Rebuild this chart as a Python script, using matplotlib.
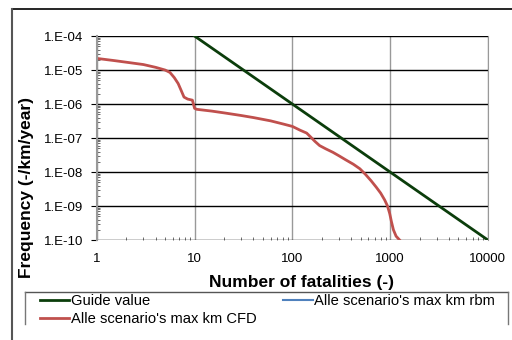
import matplotlib.pyplot as plt
from matplotlib.lines import Line2D
from matplotlib.ticker import LogLocator, NullFormatter

# guide value line (F = 1e-2 / N^2)
guide_n = [10, 10000]
guide_f = [1e-4, 1e-10]

# CFD scenario curve
cfd_n = [1, 1.5, 2, 3, 4, 5, 5.6, 6.2, 6.8, 7.3, 7.8, 8.5, 9.5, 10, 10.5, 15, 20, 30, 40, 60,
         80, 100, 120, 140, 155, 170, 190, 220, 260, 300, 350, 420, 490, 560, 640, 720, 800,
         880, 940, 990, 1030, 1080, 1150, 1250]
cfd_f = [2.2e-5, 1.9e-5, 1.7e-5, 1.45e-5, 1.2e-5, 1.0e-5, 8.5e-6, 6e-6, 4e-6, 2.5e-6, 1.6e-6,
         1.4e-6, 1.3e-6, 7.5e-7, 7e-7, 6.2e-7, 5.5e-7, 4.6e-7, 4e-7, 3.2e-7, 2.6e-7, 2.2e-7,
         1.7e-7, 1.4e-7, 1.05e-7, 8e-8, 6e-8, 4.8e-8, 3.8e-8, 3e-8, 2.3e-8, 1.7e-8, 1.25e-8,
         8.5e-9, 5.5e-9, 3.6e-9, 2.4e-9, 1.5e-9, 1.0e-9, 6e-10, 3.5e-10, 2e-10, 1.3e-10, 1.0e-10]

# rbm scenario: no visible data in the chart
rbm_n = []
rbm_f = []

yticks = [1e-4, 1e-5, 1e-6, 1e-7, 1e-8, 1e-9, 1e-10]
ylabels = ['1.E-04', '1.E-05', '1.E-06', '1.E-07', '1.E-08', '1.E-09', '1.E-10']
xticks = [1, 10, 100, 1000, 10000]
xlabels = ['1', '10', '100', '1000', '10000']

plt.rcParams['font.family'] = ['Liberation Sans', 'DejaVu Sans']

fig = plt.figure(figsize=(5.12, 3.4), dpi=100)
ax = fig.add_axes([0.189, 0.294, 0.764, 0.6])

ax.plot(guide_n, guide_f, color='#0b3d0b', lw=2, label='Guide value')
ax.plot(cfd_n, cfd_f, color='#c0504d', lw=2, label="Alle scenario's max km CFD")
ax.plot(rbm_n, rbm_f, color='#4f81bd', lw=1.5, label="Alle scenario's max km rbm")

ax.set_xscale('log')
ax.set_yscale('log')
ax.set_xlim(1, 10000)
ax.set_ylim(1e-10, 1e-4)

ax.set_yticks(yticks)
ax.set_yticklabels(ylabels)
ax.set_xticks(xticks)
ax.set_xticklabels(xlabels)
ax.xaxis.set_minor_locator(LogLocator(base=10, subs=range(2, 10)))
ax.yaxis.set_minor_locator(LogLocator(base=10, subs=range(2, 10)))
ax.xaxis.set_minor_formatter(NullFormatter())
ax.yaxis.set_minor_formatter(NullFormatter())
ax.tick_params(which='major', axis='y', direction='out', length=4, labelsize=9.5, color='black', pad=6)
ax.tick_params(which='major', axis='x', length=0, labelsize=9.5, pad=9)
ax.tick_params(which='minor', direction='in', length=2, color='#555555')

ax.grid(True, which='major', axis='y', color='black', lw=1)
ax.grid(True, which='major', axis='x', color='#999999', lw=1)
for s in ['top', 'bottom']:
    ax.spines[s].set_visible(False)
ax.spines['right'].set_color('#999999')
ax.spines['left'].set_color('#999999')
ax.spines['left'].set_linewidth(1.5)

ax.set_xlabel('Number of fatalities (-)', fontsize=12.5, fontweight='bold')
ax.set_ylabel('Frequency (-/km/year)', fontsize=12.5, fontweight='bold')
ax.xaxis.set_label_coords(0.524, -0.17)
ax.yaxis.set_label_coords(-0.16, 0.257)

leg = fig.legend(loc='upper left', bbox_to_anchor=(40 / 512, 1 - 294 / 340), ncol=2, fontsize=10.6,
                 frameon=False, borderaxespad=0, borderpad=0, handlelength=2.0,
                 handletextpad=0.1, columnspacing=1.8, labelspacing=0.25)

# legend box (open at bottom)
box_x0, box_x1 = 25 / 512, 508 / 512
box_y0, box_y1 = 1 - 324 / 340, 1 - 292 / 340
fig.add_artist(Line2D([box_x0, box_x1], [box_y1, box_y1], color='#555555', lw=1))
fig.add_artist(Line2D([box_x0, box_x0], [box_y0, box_y1], color='#777777', lw=1))
fig.add_artist(Line2D([box_x1, box_x1], [box_y0, box_y1], color='#777777', lw=1))

# outer chart frame (top and left edges visible)
fig.add_artist(Line2D([12 / 512, 1.0], [1 - 9 / 340, 1 - 9 / 340], color='black', lw=1.2))
fig.add_artist(Line2D([12 / 512, 12 / 512], [0.0, 1 - 9 / 340], color='#555555', lw=1.5))

plt.savefig('out.png', dpi=100)
plt.close()
